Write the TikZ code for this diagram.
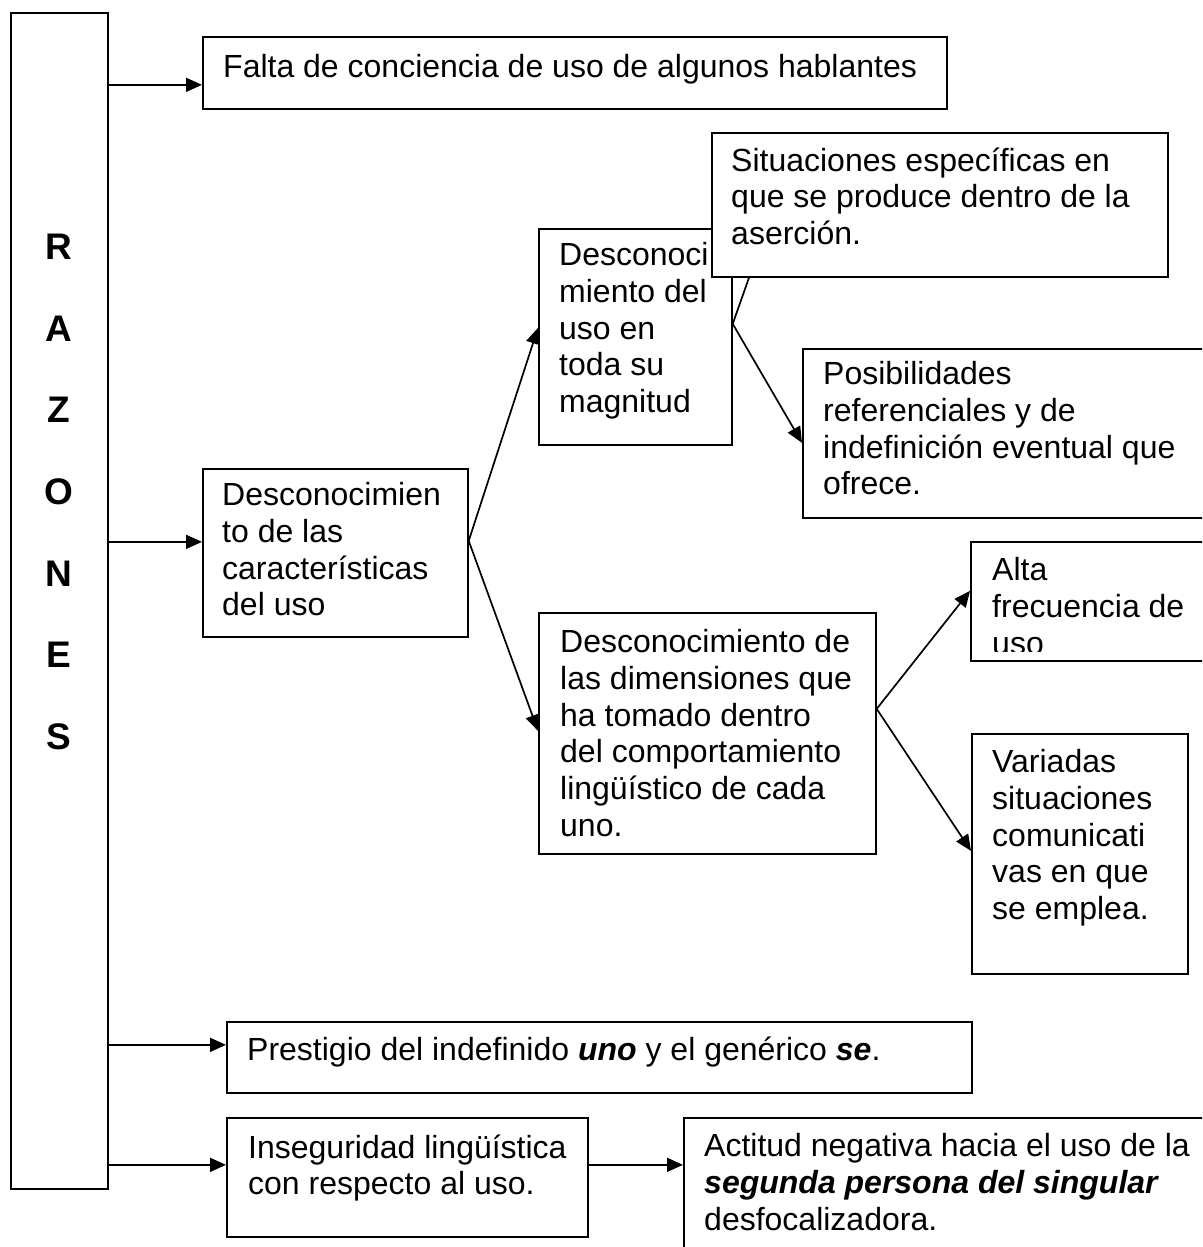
\documentclass[tikz,border=0pt]{standalone}
\usepackage{fontspec}
\setmainfont{Liberation Sans}
\usetikzlibrary{arrows.meta}
\begin{document}
\begin{tikzpicture}[x=1pt,y=-1pt,
  box/.style={draw=black, line width=1.7pt, fill=white, inner sep=0pt, anchor=north west, rectangle},
  txt/.style={anchor=north west, inner sep=0pt, align=left,
    font=\fontsize{32}{36.7}\selectfont, execute at begin node=\strut},
  letter/.style={anchor=base, inner sep=0pt, font=\fontsize{37}{40}\selectfont\bfseries},
  arr/.style={line width=1.7pt, -{Triangle[length=16pt,width=14pt]}},
  link/.style={line width=1.7pt}]
\clip (0,0) rectangle (1202,1247);
\fill[white] (0,0) rectangle (1202,1247);

% left column with the vertical title
\node[box, minimum width=97pt, minimum height=1176pt] (razones) at (10,12) {};
\node[letter] (lr) at (58.5,259) {R};
\node[letter] (la) at (58.5,341) {A};
\node[letter] (lz) at (58.5,422) {Z};
\node[letter] (lo) at (58.5,504) {O};
\node[letter] (ln) at (58.5,586) {N};
\node[letter] (le) at (58.5,667) {E};
\node[letter] (ls) at (58.5,749) {S};

% first reason
\node[box, minimum width=744pt, minimum height=72pt] (falta) at (202,36) {};
\node[txt] (faltat) at (223,51.3) {Falta de conciencia de uso de algunos hablantes};

% second reason and its branches
\node[box, minimum width=265pt, minimum height=168pt] (dcar) at (202,468) {};
\node[txt] (dcart) at (222,482.3) {Desconocimien\\to de las\\características\\del uso};

\node[box, minimum width=193pt, minimum height=216pt] (dmag) at (538,228) {};
\node[txt] (dmagt) at (559,242.3) {Desconoci\\miento del\\uso en\\toda su\\magnitud};

\node[box, minimum width=456pt, minimum height=144pt] (sit) at (711,132) {};
\node[txt] (sitt) at (731,147.3) {Situaciones específicas en\\que se produce dentro de la\\aserción.};

\node[box, minimum width=413pt, minimum height=169pt] (pos) at (802,348) {};
\node[txt] (post) at (823,361.3) {Posibilidades\\referenciales y de\\indefinición eventual que\\ofrece.};

\node[box, minimum width=337pt, minimum height=241pt] (ddim) at (538,612) {};
\node[txt] (ddimt) at (560,629.3) {Desconocimiento de\\las dimensiones que\\ha tomado dentro\\del comportamiento\\lingüístico de cada\\uno.};

\node[box, minimum width=245pt, minimum height=119pt] (alta) at (970,541) {};
\begin{scope}
  \clip (alta.north west) rectangle ([yshift=10pt]alta.south east);
  \node[txt] (altat) at (992,557.3) {Alta\\frecuencia de\\uso};
\end{scope}

\node[box, minimum width=216pt, minimum height=240pt] (var) at (971,733) {};
\node[txt] (vart) at (992,749.3) {Variadas\\situaciones\\comunicati\\vas en que\\se emplea.};

% third and fourth reasons
\node[box, minimum width=745pt, minimum height=71pt] (prest) at (226,1021) {};
\node[txt] (prestt) at (247,1034.3) {Prestigio del indefinido \textbf{\textit{uno}} y el genérico \textbf{\textit{se}}.};

\node[box, minimum width=361pt, minimum height=119pt] (inseg) at (226,1117) {};
\node[txt] (insegt) at (248,1134.3) {Inseguridad lingüística\\con respecto al uso.};

\node[box, minimum width=532pt, minimum height=143pt] (act) at (683,1117) {};
\node[txt] (actt) at (704,1133.3) {Actitud negativa hacia el uso de la\\\textbf{\textit{segunda persona del singular}}\\desfocalizadora.};

% connectors from the title column
\coordinate (inFalta) at ([yshift=-12pt]falta.west);
\coordinate (inDcar) at ([yshift=11pt]dcar.west);
\coordinate (inPrest) at ([yshift=12.5pt]prest.west);
\coordinate (inInseg) at ([yshift=12.5pt]inseg.west);
\draw[arr] (razones.east |- inFalta) -- (inFalta);
\draw[arr] (razones.east |- inDcar) -- (inDcar);
\draw[arr] (razones.east |- inPrest) -- (inPrest);
\draw[arr] (razones.east |- inInseg) -- (inInseg);

% branching connectors
\draw[arr] ([yshift=12pt]dcar.east) -- ([yshift=9pt]dmag.west);
\draw[arr] ([yshift=12pt]dcar.east) -- ([yshift=2.5pt]ddim.west);
\draw[link] ([yshift=13pt]dmag.east) -- ([xshift=38pt]sit.south west);
\draw[arr] ([yshift=13pt]dmag.east) -- ([yshift=-9.5pt]pos.west);
\draw[arr] ([yshift=24.5pt]ddim.east) -- ([yshift=10.5pt]alta.west);
\draw[arr] ([yshift=24.5pt]ddim.east) -- ([yshift=3pt]var.west);
\coordinate (outInseg) at ([yshift=12.5pt]inseg.east);
\draw[arr] (outInseg) -- (act.west |- outInseg);
\end{tikzpicture}
\end{document}
